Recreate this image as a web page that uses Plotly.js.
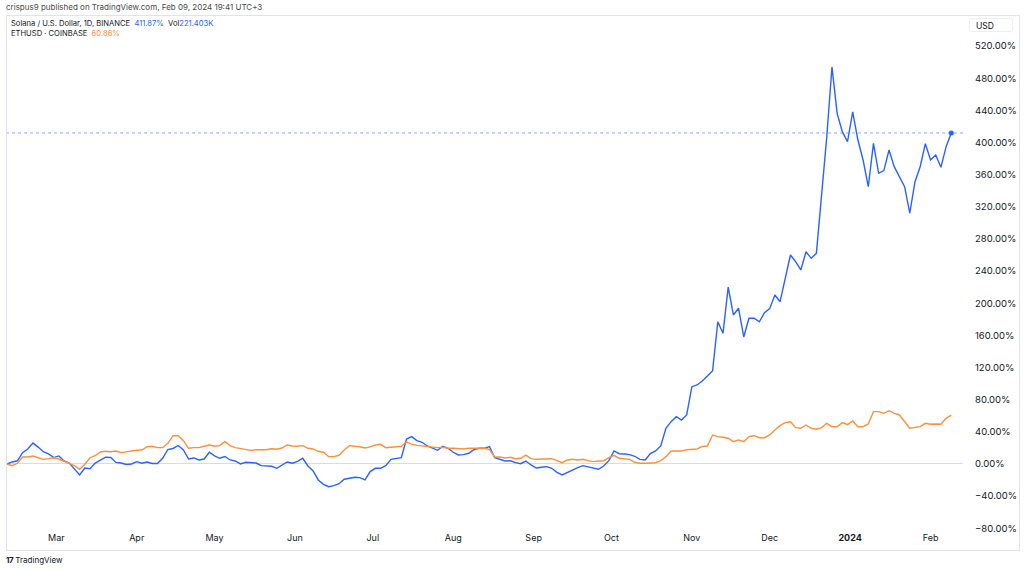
<!DOCTYPE html>
<html>
<head>
<meta charset="utf-8">
<script src="https://cdn.plot.ly/plotly-3.0.1.min.js"></script>
<style>
  html, body { margin: 0; padding: 0; background: #ffffff; }
  body { width: 1024px; height: 570px; position: relative; overflow: hidden; font-family: Inter, Roboto, "Noto Sans", sans-serif; }
  #chart { position: absolute; left: 0; top: 0; width: 1024px; height: 570px; }
  .ov { position: absolute; pointer-events: none; white-space: nowrap; }
  #frame { left: 6px; top: 15px; width: 1012px; height: 534px; border: 1px solid #e0e3eb; }
  #pub { left: 6px; top: 2px; font-size: 8px; color: #4a4a4a; }
  .leg { left: 11px; font-size: 7.6px; color: #131722; }
  #usd { left: 969px; top: 18px; width: 44px; height: 14px; border: 1px solid #eceef3; border-radius: 3px; font-size: 8.5px; color: #131722; line-height: 14px; padding-left: 6px; box-sizing: border-box; }
  #foot { left: 6px; top: 555px; font-size: 8px; color: #131722; }
</style>
</head>
<body>
<div id="chart"></div>
<div class="ov" id="frame"></div>
<div class="ov" id="pub">crispus9 published on TradingView.com, Feb 09, 2024 19:41 UTC+3</div>
<div class="ov leg" style="top:19px">Solana / U.S. Dollar, 1D, BINANCE&nbsp;&nbsp;<span style="color:#2962ff">411.87%</span>&nbsp;&nbsp;Vol<span style="color:#2962ff">221.403K</span></div>
<div class="ov leg" style="top:29px">ETHUSD · COINBASE&nbsp;&nbsp;<span style="color:#ff8f3a">60.86%</span></div>
<div class="ov" id="usd">USD</div>
<div class="ov" id="foot"><b style="font-size:8px;letter-spacing:-0.5px">17</b> TradingView</div>
<script>
// Daily-close samples (every 2 days), percent change since Feb 10, 2023
const dates = [
 '2023-02-10','2023-02-12','2023-02-14','2023-02-16','2023-02-18','2023-02-20','2023-02-22','2023-02-24','2023-02-26','2023-02-28',
 '2023-03-02','2023-03-04','2023-03-06','2023-03-08','2023-03-10','2023-03-12','2023-03-14','2023-03-16','2023-03-18','2023-03-20','2023-03-22','2023-03-24','2023-03-26','2023-03-28','2023-03-30',
 '2023-04-01','2023-04-03','2023-04-05','2023-04-07','2023-04-09','2023-04-11','2023-04-13','2023-04-15','2023-04-17','2023-04-19','2023-04-21','2023-04-23','2023-04-25','2023-04-27','2023-04-29',
 '2023-05-01','2023-05-03','2023-05-05','2023-05-07','2023-05-09','2023-05-11','2023-05-13','2023-05-15','2023-05-17','2023-05-19','2023-05-21','2023-05-23','2023-05-25','2023-05-27','2023-05-29','2023-05-31',
 '2023-06-02','2023-06-04','2023-06-06','2023-06-08','2023-06-10','2023-06-12','2023-06-14','2023-06-16','2023-06-18','2023-06-20','2023-06-22','2023-06-24','2023-06-26','2023-06-28','2023-06-30',
 '2023-07-02','2023-07-04','2023-07-06','2023-07-08','2023-07-10','2023-07-12','2023-07-14','2023-07-16','2023-07-18','2023-07-20','2023-07-22','2023-07-24','2023-07-26','2023-07-28','2023-07-30',
 '2023-08-01','2023-08-03','2023-08-05','2023-08-07','2023-08-09','2023-08-11','2023-08-13','2023-08-15','2023-08-17','2023-08-19','2023-08-21','2023-08-23','2023-08-25','2023-08-27','2023-08-29','2023-08-31',
 '2023-09-02','2023-09-04','2023-09-06','2023-09-08','2023-09-10','2023-09-12','2023-09-14','2023-09-16','2023-09-18','2023-09-20','2023-09-22','2023-09-24','2023-09-26','2023-09-28','2023-09-30',
 '2023-10-02','2023-10-04','2023-10-06','2023-10-08','2023-10-10','2023-10-12','2023-10-14','2023-10-16','2023-10-18','2023-10-20','2023-10-22','2023-10-24','2023-10-26','2023-10-28','2023-10-30',
 '2023-11-01','2023-11-03','2023-11-05','2023-11-07','2023-11-09','2023-11-11','2023-11-13','2023-11-15','2023-11-17','2023-11-19','2023-11-21','2023-11-23','2023-11-25','2023-11-27','2023-11-29',
 '2023-12-01','2023-12-03','2023-12-05','2023-12-07','2023-12-09','2023-12-11','2023-12-13','2023-12-15','2023-12-17','2023-12-19','2023-12-21','2023-12-23','2023-12-25','2023-12-27','2023-12-29','2023-12-31',
 '2024-01-02','2024-01-04','2024-01-06','2024-01-08','2024-01-10','2024-01-12','2024-01-14','2024-01-16','2024-01-18','2024-01-20','2024-01-22','2024-01-24','2024-01-26','2024-01-28','2024-01-30',
 '2024-02-01','2024-02-03','2024-02-05','2024-02-07','2024-02-09'
];

const solana = [
 0, 2.5, 4, 14, 18.7, 26, 21, 15.3, 12.5, 8,
 10, 3.7, 1.2, -5.6, -13.7, -5, -6, 1.2, 5, 8.5, 8, 1.9, 1.2, -0.6, 0,
 2.9, 0.9, 2.5, 0.6, 0.6, 7, 18, 19.3, 23, 17.4, 6.2, 7.5, 5, 6.2, 14.6,
 10, 7.1, 9.3, 5, 3.7, 0, 2.1, 1.6, 1.2, -2.1, -2.1, -2.9, -5.4, -1.7, 2.5, 0.9,
 3.3, 7.1, -2.5, -8.7, -19.9, -25.3, -28.2, -27, -24.5, -19, -17.8, -16.5, -17, -19.9, -9.5,
 -5.4, -5.4, -2.1, 5.8, 7.1, 7.8, 31.1, 34, 29, 27, 22.4, 19.5, 17, 22, 19.5,
 14.6, 11.2, 11.6, 13.3, 17.8, 19.5, 19.5, 21.5, 7.8, 5.4, 3.7, 4, 1.6, 0.4, 3.7, -1.2,
 -5, -4.1, -3.3, -5.4, -10.4, -13.7, -10.4, -7.1, -4.6, -2.1, -3.3, -4.6, -6.6, -2.5, 4.1,
 16.2, 12.8, 12.4, 11.6, 9.6, 5.8, 5, 13, 16.2, 22.4, 44.4, 52.7, 58.9, 54.7, 61,
 96.2, 98.3, 103.3, 109.5, 116.1, 177, 162.6, 220, 185.4, 193.7, 158, 181.3, 181.3, 177, 188.3,
 193.3, 210.3, 201.9, 229, 260, 251.7, 241.4, 264.1, 255.9, 262.1, 334.7, 407.2, 494, 436.3, 413.5, 401,
 438, 403.1, 378.2, 345, 399, 361.7, 365, 390.7, 369.9, 358.3, 345, 312, 351.2, 369.9, 398.5,
 378.2, 384.5, 369.1, 394.8, 411.87
];

const eth = [
 0, -2.1, 0.9, 8.7, 8.7, 10, 7.8, 5.8, 6.6, 7.8,
 6.2, 3.3, 1.2, -2.1, -6.6, -0.4, 7.8, 10.3, 14.9, 15.8, 15.3, 16.2, 14.1, 15.3, 16.5,
 17, 17.4, 21.5, 22, 20.3, 20.3, 25.7, 35.2, 35.2, 29, 19.5, 20.3, 20.3, 22, 23.6,
 22, 22.8, 27.7, 22.8, 20.3, 19, 18.3, 17, 17.8, 17.8, 17.8, 19, 18.3, 19.9, 23.6, 22.4,
 22, 22.8, 19.5, 18.7, 15.8, 14.6, 9.1, 9.1, 10.8, 17.4, 22.8, 22, 21.5, 20, 21.2,
 23.6, 24.5, 20.3, 20.8, 21.2, 22, 27.7, 24.5, 23.2, 22.4, 21.5, 20.3, 20.3, 20.8, 19.5,
 19.5, 18.7, 18.7, 19.5, 19.9, 19.5, 19.5, 17.8, 8.7, 8.7, 7.5, 8.3, 6.6, 7.1, 11, 6.6,
 5.8, 6.2, 5.8, 6.6, 4.1, 1.6, 5, 5.8, 5, 5.8, 4.1, 2.9, 3.7, 4.1, 7.8,
 10.8, 7.1, 6.6, 5.8, 2.1, 0.9, 0.9, 1.2, 1.6, 4.1, 9.1, 16.2, 16.5, 16.2, 17.8,
 18.3, 18.7, 21.8, 22.4, 36, 34, 33.2, 32, 27.7, 29.9, 27.7, 34, 35.2, 32.7, 32.7,
 36.1, 42.3, 47.7, 51.4, 52.6, 45.2, 44.4, 48.5, 44.4, 43.2, 45.2, 50.6, 46.4, 46.4, 51.4, 48.9,
 53.5, 46.4, 46.4, 49.8, 65.1, 65.1, 63, 66.3, 63, 61, 52.6, 44.4, 45.6, 46.4, 50.6,
 49.4, 49.8, 49.4, 56.8, 60.86
];

const monthTicks = ['2023-03-01','2023-04-01','2023-05-01','2023-06-01','2023-07-01','2023-08-01','2023-09-01','2023-10-01','2023-11-01','2023-12-01','2024-01-01','2024-02-01'];
const monthLabels = ['Mar','Apr','May','Jun','Jul','Aug','Sep','Oct','Nov','Dec','<b>2024</b>','Feb'];
const yTicks = [-80,-40,0,40,80,120,160,200,240,280,320,360,400,440,480,520];
const yTickLabels = ['\u221280.00%','\u221240.00%','0.00%','40.00%','80.00%','120.00%','160.00%','200.00%','240.00%','280.00%','320.00%','360.00%','400.00%','440.00%','480.00%','520.00%'];

const blue = '#2962ff';
const orange = '#ff8f3a';
const lastIdx = dates.length - 1;

const traces = [
  {x: dates, y: solana, type: 'scatter', mode: 'lines', line: {color: blue, width: 1.4}, name: 'SOLUSD', hoverinfo: 'skip'},
  {x: dates, y: eth, type: 'scatter', mode: 'lines', line: {color: orange, width: 1.4}, name: 'ETHUSD', hoverinfo: 'skip'},
  {x: [dates[lastIdx]], y: [solana[lastIdx]], type: 'scatter', mode: 'markers', marker: {color: blue, size: 5}, hoverinfo: 'skip'}
];

const layout = {
  width: 1024, height: 570,
  margin: {l: 6, r: 61, t: 16, b: 41},
  paper_bgcolor: 'rgba(0,0,0,0)',
  plot_bgcolor: 'rgba(0,0,0,0)',
  showlegend: false,
  font: {family: 'Inter, Roboto, sans-serif', color: '#131722', size: 9},
  xaxis: {
    type: 'date',
    range: ['2023-02-09 14:45', '2024-02-13 12:20'],
    tickvals: monthTicks, ticktext: monthLabels,
    showgrid: false, zeroline: false, showline: false,
    ticks: '', tickfont: {size: 9, color: '#131722'},
    ticklabelstandoff: 2
  },
  yaxis: {
    side: 'right',
    range: [-80.9, 557.4],
    tickmode: 'array',
    tickvals: yTicks, ticktext: yTickLabels,
    showgrid: false, showline: false,
    zeroline: true, zerolinecolor: '#d9dbe1', zerolinewidth: 1,
    ticks: '', tickfont: {size: 9.5, color: '#131722'},
    ticklabelstandoff: 11
  },
  shapes: [
    {type: 'line', xref: 'paper', x0: 0, x1: 1, yref: 'y', y0: solana[lastIdx], y1: solana[lastIdx],
     line: {color: 'rgba(41,98,255,0.55)', width: 1, dash: 'dot'}, layer: 'below'}
  ]
};

Plotly.newPlot('chart', traces, layout, {staticPlot: true, displayModeBar: false});
</script>
</body>
</html>
